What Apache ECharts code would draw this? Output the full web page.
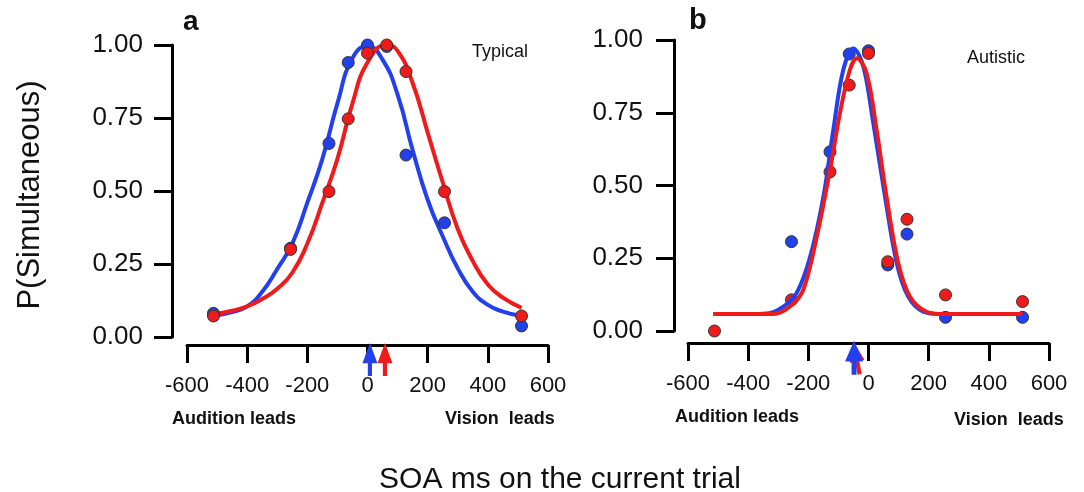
<!DOCTYPE html>
<html><head><meta charset="utf-8">
<script src="https://cdn.jsdelivr.net/npm/echarts@6/dist/echarts.min.js"></script>
<style>html,body{margin:0;padding:0;background:#fff}#c{width:1084px;height:492px}</style>
</head><body><div id="c"></div>
<script>
// ---- data ----
const soaTicks = [-600, -400, -200, 0, 200, 400, 600];
const pTicks = [0, 0.25, 0.5, 0.75, 1];

// Panel a (Typical): observed points [SOA ms, P(simultaneous)]
const typBluePts = [[-512,0.081],[-256,0.304],[-128,0.663],[-64,0.94],[0,1.0],[64,0.995],[128,0.623],[256,0.391],[512,0.038]];
const typRedPts  = [[-512,0.072],[-256,0.30],[-128,0.498],[-64,0.747],[0,0.972],[64,1.0],[128,0.909],[256,0.498],[512,0.072]];
// Panel a fitted curves
const typBlueFit = [[-512,0.072],[-450,0.085],[-400,0.105],[-350,0.155],[-300,0.233],[-250,0.32],[-200,0.46],[-150,0.61],[-100,0.80],[-50,0.955],[0,0.997],[50,0.95],[100,0.83],[150,0.64],[200,0.47],[250,0.345],[300,0.235],[350,0.155],[400,0.11],[450,0.087],[512,0.072]];
const typRedFit  = [[-512,0.078],[-450,0.09],[-400,0.105],[-350,0.13],[-300,0.165],[-250,0.22],[-200,0.32],[-150,0.46],[-100,0.61],[-50,0.80],[0,0.94],[63,1.0],[100,0.98],[150,0.87],[200,0.70],[250,0.53],[300,0.37],[350,0.26],[400,0.18],[450,0.135],[512,0.10]];
// Panel a PSS arrows (ms)
const typPss = {blue: 8, red: 58};

// Panel b (Autistic)
const autBluePts = [[-256,0.307],[-128,0.616],[-64,0.952],[0,0.963],[64,0.227],[128,0.333],[256,0.047],[512,0.047]];
const autRedPts  = [[-512,0.0],[-256,0.107],[-128,0.547],[-64,0.845],[0,0.954],[64,0.238],[128,0.384],[256,0.124],[512,0.101]];
const autBlueFit = [[-516,0.058],[-400,0.058],[-338,0.06],[-283,0.084],[-239,0.13],[-194,0.255],[-150,0.461],[-117,0.691],[-84,0.897],[-50,0.971],[-17,0.908],[16,0.714],[55,0.461],[94,0.233],[132,0.118],[182,0.066],[240,0.058],[304,0.058],[512,0.058]];
const autRedFit  = [[-516,0.058],[-400,0.058],[-316,0.058],[-261,0.084],[-217,0.141],[-172,0.324],[-128,0.553],[-95,0.748],[-62,0.897],[-39,0.937],[-6,0.885],[27,0.691],[60,0.461],[99,0.233],[138,0.118],[193,0.066],[250,0.058],[304,0.058],[512,0.058]];
const autPss = {blue: -48, red: -40};

// ---- styles ----
const BLUE = '#2340ee', RED = '#ef1b1b';
const FONT = "'Liberation Sans', Arial, sans-serif";
const ARROW_Y_A = -0.077, ARROW_Y_B = -0.092;
const arrowPath = 'path://M9,0 L18,22 L11.5,22 L11.5,36 L6.5,36 L6.5,22 L0,22 Z';

function axes(gi, xOffset, yOffset) {
  return {
    x: {
      type: 'value', gridIndex: gi, min: soaTicks[0], max: soaTicks[soaTicks.length-1], interval: 200,
      position: 'bottom', offset: xOffset,
      axisLine: {show: true, onZero: false, lineStyle: {color: '#000', width: 3}},
      axisTick: {show: true, length: 18, lineStyle: {color: '#000', width: 3}},
      axisLabel: {color: '#111', fontSize: 22, fontFamily: FONT, margin: 30},
      splitLine: {show: false}
    },
    y: {
      type: 'value', gridIndex: gi, min: pTicks[0], max: pTicks[pTicks.length-1], interval: 0.25,
      offset: yOffset,
      axisLine: {show: true, onZero: false, lineStyle: {color: '#000', width: 3}},
      axisTick: {show: true, length: 18, lineStyle: {color: '#000', width: 3}},
      axisLabel: {color: '#111', fontSize: 26, fontFamily: FONT, margin: 29, formatter: v => v.toFixed(2)},
      splitLine: {show: false}
    }
  };
}
const A = axes(0, 8, 15), B = axes(1, 12, 14);
B.y.axisLabel.margin = 31;

function fit(data, color, gi, z, sm) {
  return {type: 'line', xAxisIndex: gi, yAxisIndex: gi, data: data, smooth: sm, showSymbol: false,
    lineStyle: {color: color, width: 4}, z: z, silent: true, animation: false};
}
function pts(data, color, gi, z) {
  return {type: 'scatter', xAxisIndex: gi, yAxisIndex: gi, data: data, symbolSize: 12,
    itemStyle: {color: color, borderColor: '#333', borderWidth: 1, opacity: 1}, z: z, animation: false};
}
function arrow(x, y, color, gi, size, rot, z) {
  return {type: 'scatter', xAxisIndex: gi, yAxisIndex: gi, data: [[x, y]], symbol: arrowPath,
    symbolSize: size, symbolRotate: rot, clip: false, itemStyle: {color: color, opacity: 1}, z: z, animation: false};
}

function txt(text, x, y, size, weight, align) {
  return {type: 'text', x: x, y: y, style: {text: text, x: 0, y: 0, font: weight + ' ' + size + 'px ' + FONT,
    fill: '#111', textAlign: align || 'left', textVerticalAlign: 'middle'}};
}

const option = {
  backgroundColor: '#fff',
  animation: false,
  grid: [
    {left: 187, right: 1084-548, top: 45, bottom: 492-337, containLabel: false},
    {left: 688, right: 1084-1049, top: 40, bottom: 492-331, containLabel: false}
  ],
  xAxis: [A.x, B.x],
  yAxis: [A.y, B.y],
  series: [
    fit(typBlueFit, BLUE, 0, 2, 0.5), fit(typRedFit, RED, 0, 3, 0.5),
    pts(typBluePts, BLUE, 0, 4), pts(typRedPts, RED, 0, 5),
    arrow(typPss.blue, ARROW_Y_A, BLUE, 0, [15, 33], 0, 6),
    arrow(typPss.red, ARROW_Y_A, RED, 0, [15, 33], 0, 6),
    pts(autBluePts, BLUE, 1, 2), pts(autRedPts, RED, 1, 3),
    fit(autBlueFit, BLUE, 1, 4, 0.35), fit(autRedFit, RED, 1, 5, 0.35),
    arrow(autPss.red, ARROW_Y_B, RED, 1, [15, 34], 11, 6),
    arrow(autPss.blue, ARROW_Y_B, BLUE, 1, [18, 34], 0, 7)
  ],
  graphic: [
    txt('a', 183, 22, 28, 'bold'),
    txt('b', 689, 21, 29, 'bold'),
    txt('Typical', 472, 52, 18, 'normal'),
    txt('Autistic', 967, 58, 18, 'normal'),
    txt('Audition leads', 172, 419, 18, 'bold'),
    txt('Vision  leads', 445, 419, 18, 'bold'),
    txt('Audition leads', 675, 417, 18, 'bold'),
    txt('Vision  leads', 954, 420, 18, 'bold'),
    txt('SOA ms on the current trial', 560, 480, 30, 'normal', 'center'),
    {type: 'text', x: 30, y: 195, rotation: Math.PI/2,
      style: {text: 'P(Simultaneous)', x: 0, y: 0, font: 'normal 31px ' + FONT, fill: '#111',
        textAlign: 'center', textVerticalAlign: 'middle'}}
  ]
};
const chart = echarts.init(document.getElementById('c'), null, {renderer: 'canvas'});
chart.setOption(option);
</script></body></html>
